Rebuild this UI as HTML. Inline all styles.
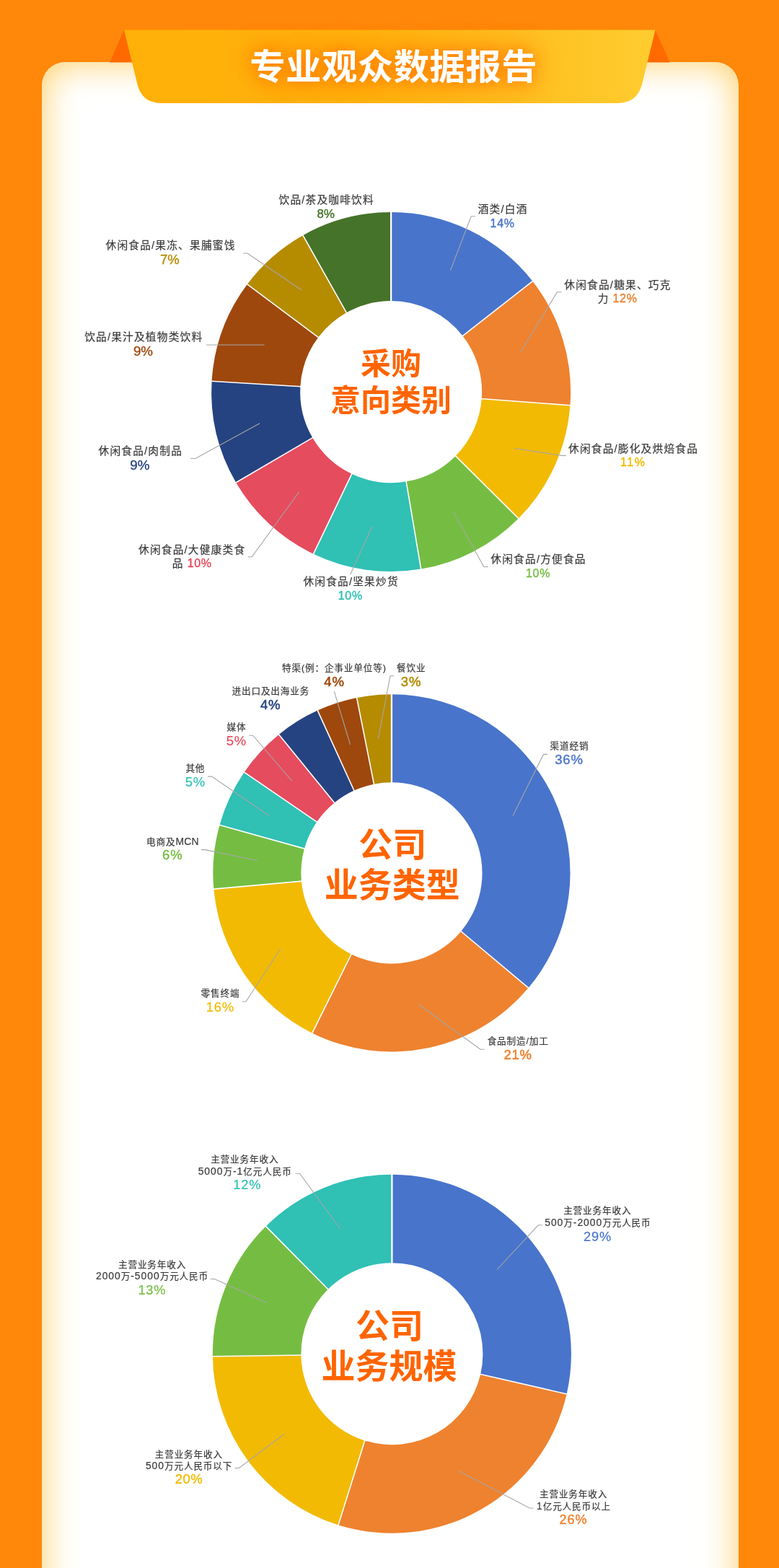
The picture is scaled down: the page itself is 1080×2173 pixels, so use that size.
<!DOCTYPE html>
<html lang="zh-CN">
<head>
<meta charset="utf-8">
<title>专业观众数据报告</title>
<style>
html,body{margin:0;padding:0}
body{width:1080px;height:2173px;background:#FF8709;position:relative;overflow:hidden;font-family:"Liberation Sans", "Noto Sans CJK SC", sans-serif;}
.wrap{position:absolute;left:58px;top:86px;width:966px;height:2087px;overflow:hidden;border-radius:32px 32px 0 0}
.card{width:966px;height:2200px;border-radius:32px;background:#fff;box-shadow:inset 0 0 50px rgb(255,205,95)}
.deco{position:absolute;left:0;top:0}
.title{position:absolute;margin:0;left:11.4px;top:52.9px;width:1068.6px;text-align:center;color:#fff;font-weight:700;font-size:49.4px;line-height:80px;letter-spacing:0.5px;text-shadow:0 0 36px rgba(255,105,0,0.8),0 0 22px rgba(255,110,0,0.5),0 0 12px rgba(255,120,0,0.2);white-space:nowrap}
.chart{position:absolute;left:0;top:0}
.l{position:absolute;width:400px;height:30px;line-height:30px;text-align:center;white-space:nowrap;color:#3a3a3a}
.t{-webkit-text-stroke:0.2px #3a3a3a}
.n{font-size:1.1em;letter-spacing:1px}
.a{font-size:1.1em;letter-spacing:0.2px}
.c{position:absolute;width:400px;height:80px;line-height:80px;text-align:center;white-space:nowrap;color:#FF6400;font-weight:700}
</style>
</head>
<body>
<div class="wrap"><div class="card"></div></div>
<svg class="deco" width="1080" height="200" viewBox="0 0 1080 200">
<defs><linearGradient id="bg" x1="0" y1="0" x2="1" y2="0"><stop offset="0" stop-color="#FFB008"/><stop offset="0.45" stop-color="#FFB30D"/><stop offset="1" stop-color="#FFCC2F"/></linearGradient></defs>
<path d="M172 41.4L152 86.5L190 86.5Z" fill="#FF6A00"/>
<path d="M908.5 41.4L928.5 86.5L890 86.5Z" fill="#FF6A00"/>
<path d="M172 41.4L908.5 41.4L890 117Q883 143 856 143L224 143Q197 143 190.5 117Z" fill="url(#bg)"/>
</svg>
<h1 class="title">专业观众数据报告</h1>
<svg class="chart" width="1080" height="2173" viewBox="0 0 1080 2173">
<g>
<path d="M542.15 294.10A249 249 0 0 1 738.36 389.80L641.44 465.53A126 126 0 0 0 542.15 417.10Z" fill="#4874CB"/>
<path d="M738.36 389.80A249 249 0 0 1 790.45 561.77L667.80 552.55A126 126 0 0 0 641.44 465.53Z" fill="#EE822F"/>
<path d="M790.45 561.77A249 249 0 0 1 718.83 718.55L631.56 631.88A126 126 0 0 0 667.80 552.55Z" fill="#F2BA02"/>
<path d="M718.83 718.55A249 249 0 0 1 583.68 788.61L563.16 667.34A126 126 0 0 0 631.56 631.88Z" fill="#75BD42"/>
<path d="M583.68 788.61A249 249 0 0 1 434.56 767.66L487.71 656.73A126 126 0 0 0 563.16 667.34Z" fill="#30C0B4"/>
<path d="M434.56 767.66A249 249 0 0 1 327.16 668.73L433.36 606.67A126 126 0 0 0 487.71 656.73Z" fill="#E54C5E"/>
<path d="M327.16 668.73A249 249 0 0 1 293.59 528.33L416.37 535.63A126 126 0 0 0 433.36 606.67Z" fill="#254380"/>
<path d="M293.59 528.33A249 249 0 0 1 342.77 393.94L441.26 467.62A126 126 0 0 0 416.37 535.63Z" fill="#9E480E"/>
<path d="M342.77 393.94A249 249 0 0 1 419.91 326.17L480.30 433.33A126 126 0 0 0 441.26 467.62Z" fill="#B58B00"/>
<path d="M419.91 326.17A249 249 0 0 1 542.15 294.10L542.15 417.10A126 126 0 0 0 480.30 433.33Z" fill="#46732A"/>
<g stroke="#fff" stroke-width="1.6">
<line x1="542.15" y1="418.10" x2="542.15" y2="293.60" stroke-width="2.3"/>
<line x1="640.65" y1="466.14" x2="738.76" y2="389.49"/>
<line x1="666.80" y1="552.47" x2="790.95" y2="561.81"/>
<line x1="630.85" y1="631.18" x2="719.19" y2="718.91"/>
<line x1="563.00" y1="666.35" x2="583.76" y2="789.11"/>
<line x1="488.14" y1="655.83" x2="434.34" y2="768.11"/>
<line x1="434.23" y1="606.17" x2="326.73" y2="668.98"/>
<line x1="417.37" y1="535.69" x2="293.09" y2="528.30"/>
<line x1="442.06" y1="468.22" x2="342.37" y2="393.64"/>
<line x1="480.79" y1="434.20" x2="419.67" y2="325.73"/>
</g>
<g fill="none" stroke="#A6A6A6" stroke-width="1.1">
<polyline points="624.5,374.7 653.2,299.8 658.8,299.8"/>
<polyline points="721.5,488.2 772.5,404.7 778.7,404.7"/>
<polyline points="713,621.2 779,631.4 784.8,631.4"/>
<polyline points="629,709.7 670.8,785.5 676.7,785.5"/>
<polyline points="516,729.2 485.8,796"/>
<polyline points="415,681.2 349.2,771.7 343.7,771.7"/>
<polyline points="360,586.7 270.8,635.5 264.2,635.5"/>
<polyline points="366.5,478 286,478"/>
<polyline points="418.5,402.2 343,351 337.2,351"/>
</g></g>
<g>
<path d="M542.95 962.30A247.6 247.6 0 0 1 732.62 1369.05L639.17 1290.63A125.6 125.6 0 0 0 542.95 1084.30Z" fill="#4874CB"/>
<path d="M732.62 1369.05A247.6 247.6 0 0 1 432.86 1431.68L487.10 1322.40A125.6 125.6 0 0 0 639.17 1290.63Z" fill="#EE822F"/>
<path d="M432.86 1431.68A247.6 247.6 0 0 1 296.35 1232.13L417.86 1221.17A125.6 125.6 0 0 0 487.10 1322.40Z" fill="#F2BA02"/>
<path d="M296.35 1232.13A247.6 247.6 0 0 1 304.47 1143.32L421.98 1176.12A125.6 125.6 0 0 0 417.86 1221.17Z" fill="#75BD42"/>
<path d="M304.47 1143.32A247.6 247.6 0 0 1 338.55 1070.16L439.27 1139.01A125.6 125.6 0 0 0 421.98 1176.12Z" fill="#30C0B4"/>
<path d="M338.55 1070.16A247.6 247.6 0 0 1 386.59 1017.91L463.64 1112.51A125.6 125.6 0 0 0 439.27 1139.01Z" fill="#E54C5E"/>
<path d="M386.59 1017.91A247.6 247.6 0 0 1 440.27 984.59L490.86 1095.61A125.6 125.6 0 0 0 463.64 1112.51Z" fill="#254380"/>
<path d="M440.27 984.59A247.6 247.6 0 0 1 494.65 967.06L518.45 1086.71A125.6 125.6 0 0 0 490.86 1095.61Z" fill="#9E480E"/>
<path d="M494.65 967.06A247.6 247.6 0 0 1 542.95 962.30L542.95 1084.30A125.6 125.6 0 0 0 518.45 1086.71Z" fill="#B58B00"/>
<g stroke="#fff" stroke-width="1.6">
<line x1="542.95" y1="1085.30" x2="542.95" y2="961.80" stroke-width="2.3"/>
<line x1="638.40" y1="1289.99" x2="733.01" y2="1369.38"/>
<line x1="487.55" y1="1321.51" x2="432.64" y2="1432.13"/>
<line x1="418.85" y1="1221.08" x2="295.85" y2="1232.17"/>
<line x1="422.94" y1="1176.39" x2="303.99" y2="1143.18"/>
<line x1="440.09" y1="1139.58" x2="338.14" y2="1069.87"/>
<line x1="464.27" y1="1113.29" x2="386.28" y2="1017.53"/>
<line x1="491.28" y1="1096.52" x2="440.06" y2="984.14"/>
<line x1="518.64" y1="1087.69" x2="494.55" y2="966.57"/>
</g>
<g fill="none" stroke="#A6A6A6" stroke-width="1.1">
<polyline points="711,1130.5 753.5,1045.4 759,1045.4"/>
<polyline points="581,1392.5 666,1454.3 671.5,1454.3"/>
<polyline points="389,1314.5 341,1388 336.1,1388"/>
<polyline points="357,1192.5 284.2,1177.6 278.9,1177.6"/>
<polyline points="373,1130.5 293.6,1076.1 288.3,1076.1"/>
<polyline points="405,1082.5 350.6,1019.2 345.3,1019.2"/>
<polyline points="485.6,1031.9 463.3,958.2"/>
<polyline points="524.3,1023.9 541,936.8 546.25,936.8"/>
</g></g>
<g>
<path d="M543.40 1627.65A248.55 248.55 0 0 1 785.63 1931.90L666.20 1904.44A126 126 0 0 0 543.40 1750.20Z" fill="#4874CB"/>
<path d="M785.63 1931.90A248.55 248.55 0 0 1 469.07 2113.38L505.72 1996.43A126 126 0 0 0 666.20 1904.44Z" fill="#EE822F"/>
<path d="M469.07 2113.38A248.55 248.55 0 0 1 294.87 1879.67L417.41 1877.96A126 126 0 0 0 505.72 1996.43Z" fill="#F2BA02"/>
<path d="M294.87 1879.67A248.55 248.55 0 0 1 368.57 1699.53L454.77 1786.64A126 126 0 0 0 417.41 1877.96Z" fill="#75BD42"/>
<path d="M368.57 1699.53A248.55 248.55 0 0 1 543.40 1627.65L543.40 1750.20A126 126 0 0 0 454.77 1786.64Z" fill="#30C0B4"/>
<g stroke="#fff" stroke-width="1.6">
<line x1="543.40" y1="1751.20" x2="543.40" y2="1627.15" stroke-width="2.3"/>
<line x1="665.22" y1="1904.21" x2="786.12" y2="1932.01"/>
<line x1="506.02" y1="1995.48" x2="468.92" y2="2113.85"/>
<line x1="418.41" y1="1877.95" x2="294.37" y2="1879.68"/>
<line x1="455.48" y1="1787.35" x2="368.22" y2="1699.18"/>
</g>
<g fill="none" stroke="#A6A6A6" stroke-width="1.1">
<polyline points="689,1759.5 746.3,1697.8 751.7,1697.8"/>
<polyline points="636,2038.5 734.2,2090 739.7,2090"/>
<polyline points="394,1987.5 331.3,2034.5 325.3,2034.5"/>
<polyline points="370,1805.5 297.5,1772.5 291.7,1772.5"/>
<polyline points="472,1703.5 415.5,1626.2 409.5,1626.2"/>
</g></g>
</svg>
<div class="l t" style="left:497.12px;top:274.6px;font-size:14.7px;letter-spacing:1.2px">酒类/白酒</div>
<div class="l" style="left:496.6px;top:294.82px;font-size:16.0px;letter-spacing:0.65px;color:#4874CB;-webkit-text-stroke:0.4px #4874CB">14%</div>
<div class="l t" style="left:656.46px;top:379.93px;font-size:14.7px;letter-spacing:1.2px">休闲食品/糖果、巧克</div>
<div class="l t" style="left:656.1px;top:398.5px;font-size:14.7px;letter-spacing:1.2px">力<span style="font-size:16.0px;letter-spacing:0.65px;color:#EE822F;-webkit-text-stroke:0.4px #EE822F;margin-left:5px">12%</span></div>
<div class="l t" style="left:678.05px;top:606.98px;font-size:14.7px;letter-spacing:1.2px">休闲食品/膨化及烘焙食品</div>
<div class="l" style="left:677.87px;top:625.5px;font-size:16.0px;letter-spacing:1.6px;color:#F2BA02;-webkit-text-stroke:0.4px #F2BA02">11%</div>
<div class="l t" style="left:546.55px;top:760.31px;font-size:14.7px;letter-spacing:1.2px">休闲食品/方便食品</div>
<div class="l" style="left:546.05px;top:780.16px;font-size:16.0px;letter-spacing:0.65px;color:#75BD42;-webkit-text-stroke:0.4px #75BD42">10%</div>
<div class="l t" style="left:286.61px;top:790.93px;font-size:14.7px;letter-spacing:1.2px">休闲食品/坚果炒货</div>
<div class="l" style="left:285.8px;top:810.8px;font-size:16.0px;letter-spacing:0.65px;color:#30C0B4;-webkit-text-stroke:0.4px #30C0B4">10%</div>
<div class="l t" style="left:66.17px;top:747.24px;font-size:14.7px;letter-spacing:1.2px">休闲食品/大健康类食</div>
<div class="l t" style="left:66.2px;top:765.8px;font-size:14.7px;letter-spacing:1.2px">品<span style="font-size:16.0px;letter-spacing:0.65px;color:#E54C5E;-webkit-text-stroke:0.4px #E54C5E;margin-left:5px">10%</span></div>
<div class="l t" style="left:-5.22px;top:609.62px;font-size:14.7px;letter-spacing:1.2px">休闲食品/肉制品</div>
<div class="l" style="left:-6.1px;top:629.94px;font-size:18.8px;letter-spacing:0px;color:#254380;-webkit-text-stroke:0.35px #254380">9%</div>
<div class="l t" style="left:-0.79px;top:451.7px;font-size:14.7px;letter-spacing:1.2px">饮品/果汁及植物类饮料</div>
<div class="l" style="left:-1.5px;top:471.9px;font-size:18.8px;letter-spacing:0px;color:#9E480E;-webkit-text-stroke:0.35px #9E480E">9%</div>
<div class="l t" style="left:36.56px;top:324.83px;font-size:14.7px;letter-spacing:1.2px">休闲食品/果冻、果脯蜜饯</div>
<div class="l" style="left:35.4px;top:344.9px;font-size:18.5px;letter-spacing:0px;color:#B58B00;-webkit-text-stroke:0.35px #B58B00">7%</div>
<div class="l t" style="left:252.71px;top:261.74px;font-size:14.7px;letter-spacing:1.2px">饮品/茶及咖啡饮料</div>
<div class="l" style="left:251.69px;top:281.56px;font-size:16.8px;letter-spacing:0px;color:#46732A;-webkit-text-stroke:0.45px #46732A">8%</div>
<div class="c" style="left:342px;top:465px;font-size:42px">采购</div>
<div class="c" style="left:342px;top:515.6px;font-size:42px">意向类别</div>
<div class="l t" style="left:589.47px;top:1018.82px;font-size:12.6px;letter-spacing:0.87px">渠道经销</div>
<div class="l" style="left:589.01px;top:1037.9px;font-size:18.5px;letter-spacing:0.8px;color:#4874CB;-webkit-text-stroke:0.4px #4874CB">36%</div>
<div class="l t" style="left:518.21px;top:1428.47px;font-size:12.6px;letter-spacing:0.87px">食品制造/加工</div>
<div class="l" style="left:518.11px;top:1446.9px;font-size:18.5px;letter-spacing:0.8px;color:#EE822F;-webkit-text-stroke:0.55px #EE822F">21%</div>
<div class="l t" style="left:105.49px;top:1361.56px;font-size:12.6px;letter-spacing:0.87px">零售终端</div>
<div class="l" style="left:105.39px;top:1380.58px;font-size:18.5px;letter-spacing:0.8px;color:#F2BA02;-webkit-text-stroke:0.2px #F2BA02">16%</div>
<div class="l t" style="left:39.36px;top:1151.3px;font-size:12.6px;letter-spacing:0.87px">电商及<span class="a">MCN</span></div>
<div class="l" style="left:39.28px;top:1170.22px;font-size:18.5px;letter-spacing:0.8px;color:#75BD42;-webkit-text-stroke:0.4px #75BD42">6%</div>
<div class="l t" style="left:70.89px;top:1049.77px;font-size:12.6px;letter-spacing:0.87px">其他</div>
<div class="l" style="left:70.81px;top:1068.94px;font-size:18.5px;letter-spacing:0.8px;color:#30C0B4;-webkit-text-stroke:0.2px #30C0B4">5%</div>
<div class="l t" style="left:127.92px;top:993.14px;font-size:12.6px;letter-spacing:0.87px">媒体</div>
<div class="l" style="left:127.82px;top:1011.7px;font-size:18.5px;letter-spacing:0.8px;color:#E54C5E;-webkit-text-stroke:0.2px #E54C5E">5%</div>
<div class="l t" style="left:175.37px;top:943.35px;font-size:12.6px;letter-spacing:0.87px">进出口及出海业务</div>
<div class="l" style="left:175.05px;top:961.8px;font-size:18.5px;letter-spacing:0.8px;color:#254380;-webkit-text-stroke:0.55px #254380">4%</div>
<div class="l t" style="left:263.39px;top:911.04px;font-size:12.6px;letter-spacing:0.87px">特渠(例：企事业单位等)</div>
<div class="l" style="left:263.48px;top:929.6px;font-size:18.5px;letter-spacing:0.8px;color:#9E480E;-webkit-text-stroke:0.55px #9E480E">4%</div>
<div class="l t" style="left:370.2px;top:911.3px;font-size:12.6px;letter-spacing:0.87px">餐饮业</div>
<div class="l" style="left:369.98px;top:929.6px;font-size:18.5px;letter-spacing:0.8px;color:#B58B00;-webkit-text-stroke:0.55px #B58B00">3%</div>
<div class="c" style="left:344.2px;top:1130.7px;font-size:47px">公司</div>
<div class="c" style="left:343.8px;top:1186.6px;font-size:47px">业务类型</div>
<div class="l t" style="left:628.26px;top:1663.29px;font-size:12.6px;letter-spacing:0.87px">主营业务年收入</div>
<div class="l t" style="left:628.86px;top:1678.53px;font-size:12.6px;letter-spacing:0.87px"><span class="n">500</span>万<span class="n">-2000</span>万元人民币</div>
<div class="l" style="left:628.46px;top:1698.94px;font-size:18.2px;letter-spacing:0.8px;color:#4874CB;-webkit-text-stroke:0.2px #4874CB">29%</div>
<div class="l t" style="left:595.08px;top:2055.8px;font-size:12.6px;letter-spacing:0.87px">主营业务年收入</div>
<div class="l t" style="left:595.44px;top:2071.89px;font-size:12.6px;letter-spacing:0.87px"><span class="n">1</span>亿元人民币以上</div>
<div class="l" style="left:594.98px;top:2090.8px;font-size:18.2px;letter-spacing:0.8px;color:#EE822F;-webkit-text-stroke:0.4px #EE822F">26%</div>
<div class="l t" style="left:61.84px;top:2000.56px;font-size:12.6px;letter-spacing:0.87px">主营业务年收入</div>
<div class="l t" style="left:62.09px;top:2015.7px;font-size:12.6px;letter-spacing:0.87px"><span class="n">500</span>万元人民币以下</div>
<div class="l" style="left:62.08px;top:2034.8px;font-size:18.2px;letter-spacing:0.8px;color:#F2BA02;-webkit-text-stroke:0.4px #F2BA02">20%</div>
<div class="l t" style="left:11.08px;top:1737.5px;font-size:12.6px;letter-spacing:0.87px">主营业务年收入</div>
<div class="l t" style="left:10.98px;top:1753.27px;font-size:12.6px;letter-spacing:0.87px"><span class="n">2000</span>万<span class="n">-5000</span>万元人民币</div>
<div class="l" style="left:10.8px;top:1772.9px;font-size:18.2px;letter-spacing:0.8px;color:#75BD42;-webkit-text-stroke:0.2px #75BD42">13%</div>
<div class="l t" style="left:139.26px;top:1592.37px;font-size:12.6px;letter-spacing:0.87px">主营业务年收入</div>
<div class="l t" style="left:139.65px;top:1608.3px;font-size:12.6px;letter-spacing:0.87px"><span class="n">5000</span>万<span class="n">-1</span>亿元人民币</div>
<div class="l" style="left:142.75px;top:1626.7px;font-size:18.2px;letter-spacing:0.8px;color:#30C0B4;-webkit-text-stroke:0.2px #30C0B4">12%</div>
<div class="c" style="left:340.1px;top:1797.5px;font-size:47px">公司</div>
<div class="c" style="left:339.6px;top:1853.5px;font-size:47px">业务规模</div>
</body>
</html>
